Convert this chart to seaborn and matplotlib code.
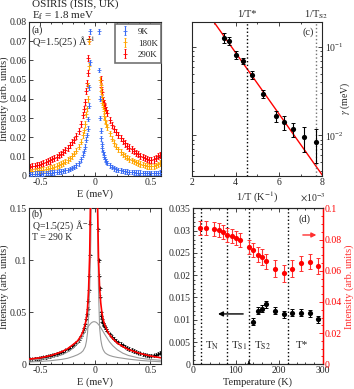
import numpy as np
import matplotlib
matplotlib.use("Agg")
import matplotlib.pyplot as plt
import seaborn as sns
from matplotlib.ticker import MultipleLocator, FuncFormatter, LogLocator, NullFormatter

nan = np.nan

# ---- panel (a): OSIRIS spectra, Q = 1.5 A^-1 ----
energy = [-0.59, -0.57, -0.55, -0.53, -0.51, -0.49, -0.47, -0.45, -0.43, -0.41, -0.39, -0.37,
          -0.35, -0.33, -0.31, -0.29, -0.27, -0.25, -0.23, -0.21, -0.19, -0.17, -0.15, -0.13,
          -0.11, -0.10, -0.09, -0.08, -0.075, -0.07, -0.065, -0.06, -0.055, -0.05, -0.045,
          0.03, 0.035, 0.04, 0.045, 0.05, 0.055, 0.06, 0.065, 0.07, 0.075, 0.08, 0.09, 0.10,
          0.11, 0.13, 0.15, 0.17, 0.19, 0.21, 0.23, 0.25, 0.27, 0.29, 0.31, 0.33, 0.35, 0.37,
          0.39, 0.41, 0.43, 0.45, 0.47, 0.49, 0.51, 0.53, 0.55, 0.57, 0.59]

i_9K = [0.0010, 0.0010, 0.0011, 0.0011, 0.0012, 0.0012, 0.0013, 0.0014, 0.0015, 0.0016, 0.0017, 0.0018,
        0.0019, 0.0021, 0.0023, 0.0025, 0.0028, 0.0031, 0.0035, 0.0040, 0.0046, 0.0054, 0.0065, 0.0085,
        0.0110, 0.0128, 0.0152, 0.0188, 0.0212, 0.0245, 0.0295, 0.0365, 0.0460, 0.0590, 0.0750,
        0.0750, 0.0550, 0.0400, 0.0300, 0.0235, 0.0195, 0.0165, 0.0142, 0.0124, 0.0110, 0.0098, 0.0085, 0.0075,
        0.0067, 0.0055, 0.0046, 0.0039, 0.0034, 0.0031, 0.0028, 0.0025, 0.0023, 0.0021, 0.0020, 0.0019, 0.0018, 0.0017,
        0.0016, 0.0016, 0.0015, 0.0015, 0.0014, 0.0014, 0.0014, 0.0014, 0.0014, 0.0015, 0.0016]

i_180K = [0.0022, 0.0023, 0.0025, 0.0026, 0.0028, 0.0030, 0.0032, 0.0034, 0.0037, 0.0040, 0.0043, 0.0047,
          0.0051, 0.0056, 0.0061, 0.0067, 0.0074, 0.0082, 0.0091, 0.0102, 0.0115, 0.0131, 0.0151, 0.0177,
          0.0212, 0.0236, 0.0270, 0.0320, 0.0350, 0.0400, 0.0470, 0.0570, 0.0700, 0.0850, nan,
          nan, nan, nan, 0.0500, 0.0470, 0.0440, 0.0410, 0.0380, 0.0360, 0.0335, 0.0310, 0.0290, 0.0270,
          0.0252, 0.0220, 0.0193, 0.0170, 0.0152, 0.0137, 0.0124, 0.0112, 0.0102, 0.0094, 0.0087, 0.0081, 0.0075, 0.0070,
          0.0066, 0.0062, 0.0058, 0.0055, 0.0052, 0.0050, 0.0049, 0.0050, 0.0054, 0.0060, 0.0066]

i_290K = [0.0048, 0.0050, 0.0053, 0.0055, 0.0058, 0.0062, 0.0066, 0.0070, 0.0075, 0.0080, 0.0086, 0.0092,
          0.0099, 0.0106, 0.0114, 0.0123, 0.0134, 0.0146, 0.0160, 0.0174, 0.0188, 0.0208, 0.0232, 0.0268,
          0.0315, 0.0345, 0.0385, 0.0440, 0.0480, 0.0535, 0.0610, 0.0710, 0.0850, 0.1050, 0.1350,
          nan, nan, nan, nan, 0.0500, 0.0460, 0.0435, 0.0410, 0.0395, 0.0380, 0.0370, 0.0355, 0.0340,
          0.0325, 0.0290, 0.0265, 0.0245, 0.0227, 0.0210, 0.0195, 0.0181, 0.0168, 0.0157, 0.0147, 0.0137, 0.0128, 0.0120,
          0.0112, 0.0105, 0.0098, 0.0092, 0.0087, 0.0083, 0.0082, 0.0085, 0.0093, 0.0103, 0.0110]

err_a = {'9K': 0.0012, '180K': 0.0014, '290K': 0.0016}

# ---- panel (b): 290 K data + fit components ----
e_extra_b = [-0.04, 0.02, 0.025, 0.03, 0.035, 0.04, 0.045]
i_extra_b = [0.19, 0.17, 0.13, 0.10, 0.085, 0.073, 0.065]

e_fit = [-0.6, -0.5, -0.4, -0.3, -0.25, -0.2, -0.16, -0.13, -0.11, -0.09, -0.08, -0.07, -0.06, -0.05,
         -0.04, -0.03, -0.02, -0.01, 0.0, 0.01, 0.02, 0.03, 0.04, 0.05, 0.06, 0.07, 0.08, 0.09,
         0.11, 0.13, 0.16, 0.2, 0.25, 0.3, 0.4, 0.5, 0.6]
fit_total = [0.0050, 0.0062, 0.0085, 0.0122, 0.0150, 0.0190, 0.0225, 0.0272, 0.0318, 0.0390, 0.0445, 0.0540,
             0.0720, 0.1060, 0.18, 0.33, 0.55, 0.65, 0.55, 0.35, 0.16, 0.100, 0.073, 0.059, 0.050, 0.044,
             0.040, 0.037, 0.032, 0.0285, 0.0245, 0.0205, 0.0170, 0.0143, 0.0106, 0.0080, 0.0062]
fit_broad = [0.0040, 0.0048, 0.0063, 0.0092, 0.0118, 0.0155, 0.0200, 0.0245, 0.0280, 0.0318, 0.0335, 0.0352,
             0.0368, 0.0382, 0.0394, 0.0403, 0.0408, 0.0410, 0.0408, 0.0403, 0.0394, 0.0382, 0.0368, 0.0352,
             0.0335, 0.0318, 0.0300, 0.0282, 0.0248, 0.0215, 0.0178, 0.0140, 0.0107, 0.0085, 0.0060, 0.0046, 0.0038]
fit_narrow = [0.0022, 0.0027, 0.0035, 0.0048, 0.0058, 0.0075, 0.0092, 0.0110, 0.0130, 0.0170, 0.0220, 0.0300,
              0.0450, 0.0750, 0.12, 0.22, 0.40, 0.50, 0.45, 0.30, 0.15, 0.07, 0.035, 0.024, 0.018, 0.0145,
              0.0125, 0.0110, 0.0095, 0.0085, 0.0075, 0.0066, 0.0058, 0.0050, 0.0038, 0.0030, 0.0024]

# ---- transitions ----
transitions = [20, 80, 130, 220]
trans_labels = [r'T$_{\rm N}$', r'T$_{\rm S1}$', r'T$_{\rm S2}$', r'T*']

# ---- panel (c): Arrhenius plot of gamma ----
temps_c = [290, 270, 250, 230, 210, 190, 170, 160, 150, 140, 130]
gamma = [0.128, 0.117, 0.082, 0.070, 0.048, 0.0297, 0.0165, 0.0141, 0.0117, 0.0095, 0.0084]
gamma_err = [0.018, 0.012, 0.008, 0.006, 0.005, 0.003, 0.0022, 0.0025, 0.0022, 0.0030, 0.0035]
fit_invT = [3.0, 8.0]
fit_gamma = [0.193, 0.00354]

# ---- panel (d): temperature dependence ----
temps_red = [17, 30, 50, 60, 70, 80, 90, 100, 110, 130, 140, 150, 160, 170, 190, 210, 230, 250, 270, 290]
int_red = [0.0876, 0.0874, 0.0870, 0.0863, 0.0848, 0.0831, 0.0825, 0.0812, 0.0797, 0.0752,
           0.0735, 0.0703, 0.0688, 0.0660, 0.0613, 0.0583, 0.0613, 0.0647, 0.0658, 0.0632]
int_red_err = [0.0045, 0.0045, 0.0045, 0.0045, 0.0045, 0.0045, 0.0045, 0.0045, 0.0045, 0.0045,
               0.0045, 0.005, 0.005, 0.005, 0.0055, 0.0055, 0.0055, 0.005, 0.005, 0.005]
temps_black = [140, 150, 160, 170, 190, 210, 230, 250, 270, 290]
val_black = [0.0096, 0.0120, 0.0125, 0.0135, 0.0120, 0.0112, 0.0116, 0.0116, 0.0114, 0.0101]
val_black_err = [0.0008, 0.0008, 0.0008, 0.0008, 0.0008, 0.0008, 0.0008, 0.0008, 0.0008, 0.0008]

sns.set_style('ticks')
plt.rcParams['font.family'] = ['Liberation Serif', 'DejaVu Serif']
plt.rcParams['mathtext.fontset'] = 'stix'
plt.rcParams['font.size'] = 7.5
plt.rcParams['axes.linewidth'] = 0.8
TICK = 7
TXT = 7.5

fmt_g = FuncFormatter(lambda v, p: f'{v:g}')


def style(ax, right=True):
    ax.tick_params(which='both', direction='in', top=True, right=right, labelsize=TICK, width=0.6, pad=1.5)
    ax.tick_params(which='major', length=3)
    ax.tick_params(which='minor', length=1.5)


fig = plt.figure(figsize=(3.54, 3.89), dpi=100)
ax_a = fig.add_axes([0.082, 0.548, 0.374, 0.396])
ax_c = fig.add_axes([0.5424, 0.548, 0.3686, 0.396])
ax_b = fig.add_axes([0.082, 0.0635, 0.374, 0.401])
ax_d = fig.add_axes([0.5443, 0.0635, 0.367, 0.401])

# (a)
colors_a = {'9K': '#3a6cf4', '180K': '#ffa500', '290K': '#ff0000'}
series_a = {'9K': i_9K, '180K': i_180K, '290K': i_290K}
handles = {}
for name, z in [('290K', 1), ('180K', 2), ('9K', 3)]:
    handles[name] = ax_a.errorbar(energy, series_a[name], yerr=err_a[name], fmt='+', ms=2.5, mew=0.6,
                                  elinewidth=0.8, capsize=1, capthick=0.6, color=colors_a[name],
                                  label=name, zorder=z)
ax_a.set_xlim(-0.6, 0.6)
ax_a.set_ylim(0, 0.08)
ax_a.xaxis.set_major_locator(MultipleLocator(0.5))
ax_a.xaxis.set_minor_locator(MultipleLocator(0.1))
ax_a.yaxis.set_major_locator(MultipleLocator(0.01))
ax_a.xaxis.set_major_formatter(fmt_g)
ax_a.yaxis.set_major_formatter(fmt_g)
style(ax_a)
ax_a.set_xlabel('E (meV)', labelpad=1.5)
ax_a.set_ylabel('Intensity (arb. units)', labelpad=0.5)
leg = ax_a.legend(handles=[handles['9K'], handles['180K'], handles['290K']], loc='upper right',
                  bbox_to_anchor=(1.0, 0.985), borderaxespad=0, fontsize=6.5, handlelength=1.4,
                  handletextpad=0.7, fancybox=False, framealpha=1, edgecolor='0.45',
                  borderpad=0.4, labelspacing=0.35)
leg.get_frame().set_linewidth(1.2)
ax_a.text(0.02, 1.112, 'OSIRIS (ISIS, UK)', transform=ax_a.transAxes, fontsize=8, va='center')
ax_a.text(0.02, 1.038, r'E$_{\rm f}$ = 1.8 meV', transform=ax_a.transAxes, fontsize=8, va='center')
ax_a.text(0.02, 0.943, '(a)', transform=ax_a.transAxes, fontsize=TXT, va='center')
ax_a.text(0.02, 0.868, r'Q=1.5(25) Å$^{-1}$', transform=ax_a.transAxes, fontsize=TXT, va='center')

# (b)
ax_b.errorbar(energy + e_extra_b, i_290K + i_extra_b, yerr=0.0015, fmt='+', ms=2.5, mew=0.6,
              elinewidth=0.7, capsize=1, capthick=0.5, color='black', ecolor='0.3', zorder=2)
sns.lineplot(x=e_fit, y=fit_narrow, ax=ax_b, color='0.6', lw=0.8, sort=False, zorder=3)
sns.lineplot(x=e_fit, y=fit_broad, ax=ax_b, color='0.6', lw=0.8, sort=False, zorder=3)
sns.lineplot(x=e_fit, y=fit_total, ax=ax_b, color='#ff0000', lw=1.2, sort=False, zorder=4)
ax_b.set_xlim(-0.6, 0.6)
ax_b.set_ylim(0, 0.15)
ax_b.xaxis.set_major_locator(MultipleLocator(0.5))
ax_b.xaxis.set_minor_locator(MultipleLocator(0.1))
ax_b.yaxis.set_major_locator(MultipleLocator(0.05))
ax_b.xaxis.set_major_formatter(fmt_g)
ax_b.yaxis.set_major_formatter(fmt_g)
style(ax_b)
ax_b.set_xlabel('E (meV)', labelpad=1.5)
ax_b.set_ylabel('Intensity (arb. units)', labelpad=0.5)
ax_b.text(0.02, 0.995, '(b)', transform=ax_b.transAxes, fontsize=7, va='top')
ax_b.text(0.02, 0.885, r'Q=1.5(25) Å$^{-1}$', transform=ax_b.transAxes, fontsize=7, va='center')
ax_b.text(0.02, 0.81, 'T = 290 K', transform=ax_b.transAxes, fontsize=7, va='center')

# (c)
inv_T = [1000.0 / t for t in temps_c]
ax_c.set_yscale('log')
sns.lineplot(x=fit_invT, y=fit_gamma, ax=ax_c, color='#ff0000', lw=1.0, sort=False, zorder=2)
ax_c.errorbar(inv_T, gamma, yerr=gamma_err, fmt='none', ecolor='black', elinewidth=0.8,
              capsize=1.5, capthick=0.7, zorder=3)
sns.scatterplot(x=inv_T, y=gamma, ax=ax_c, color='black', s=14, edgecolor='black', linewidth=0, zorder=4)
ax_c.axvline(1000.0 / transitions[3], color='black', ls=':', lw=1.0)
ax_c.axvline(1000.0 / transitions[2], color='0.45', ls=':', lw=1.0)
ax_c.set_xlim(2, 8)
ax_c.set_ylim(0.0035, 0.193)
ax_c.xaxis.set_major_locator(MultipleLocator(2))
ax_c.xaxis.set_minor_locator(MultipleLocator(1))
ax_c.yaxis.set_major_locator(LogLocator(base=10))
ax_c.yaxis.set_minor_locator(LogLocator(base=10, subs=np.arange(2, 10)))
ax_c.yaxis.set_minor_formatter(NullFormatter())
ax_c.xaxis.set_major_formatter(fmt_g)
style(ax_c)
ax_c.tick_params(axis='y', which='both', labelleft=False, labelright=True)
ax_c.set_xlabel(r'1/T (K$^{-1}$)', labelpad=2)
ax_c.yaxis.set_label_position('right')
ax_c.set_ylabel(r'$\gamma$ (meV)', fontsize=7)
ax_c.yaxis.set_label_coords(1.125, 0.5)
ax_c.text(0.83, -0.145, r'$\times$10$^{-3}$', transform=ax_c.transAxes, fontsize=TICK, va='center')
ax_c.text(1000.0 / transitions[3], 1.045, '1/T*', transform=ax_c.get_xaxis_transform(),
          ha='center', va='center', fontsize=TXT)
ax_c.text(1000.0 / transitions[2], 1.045, r'1/T$_{\rm S2}$', transform=ax_c.get_xaxis_transform(),
          ha='center', va='center', fontsize=TXT)
ax_c.text(0.89, 0.935, '(c)', transform=ax_c.transAxes, fontsize=TXT, ha='center', va='center')

# (d)
ax_d2 = ax_d.twinx()
ax_d.errorbar(temps_black, val_black, yerr=val_black_err, fmt='none', ecolor='black', elinewidth=0.8,
              capsize=1.5, capthick=0.7, zorder=3)
sns.scatterplot(x=temps_black, y=val_black, ax=ax_d, color='black', s=14, linewidth=0, zorder=4)
ax_d2.errorbar(temps_red, int_red, yerr=int_red_err, fmt='none', ecolor='#ff3030', elinewidth=0.8,
               capsize=1.5, capthick=0.7, zorder=3)
sns.scatterplot(x=temps_red, y=int_red, ax=ax_d2, color='#ff0000', s=14, linewidth=0, zorder=4)
for t in transitions:
    ax_d.axvline(t, color='black', ls=':', lw=1.0)
for t, lab, xl in zip(transitions, trans_labels, [28, 88, 141, 238]):
    ax_d.text(xl, 0.0042, lab, fontsize=8, va='center')
ax_d.annotate('', xy=(130, 0.0014), xytext=(130, 0.0),
              arrowprops=dict(arrowstyle='-|>', color='black', lw=0.6, mutation_scale=4))
ax_d.annotate('', xy=(52, 0.0113), xytext=(123, 0.0113),
              arrowprops=dict(arrowstyle='-|>', color='black', lw=1.0, mutation_scale=7))
ax_d2.annotate('', xy=(292, 0.0829), xytext=(248, 0.0829),
               arrowprops=dict(arrowstyle='-|>', color='#ff3030', lw=1.0, mutation_scale=7))
ax_d.set_xlim(0, 300)
ax_d.set_ylim(0, 0.035)
ax_d2.set_ylim(0, 0.1)
ax_d.xaxis.set_major_locator(MultipleLocator(100))
ax_d.xaxis.set_minor_locator(MultipleLocator(20))
ax_d.yaxis.set_major_locator(MultipleLocator(0.005))
ax_d.yaxis.set_minor_locator(MultipleLocator(0.001))
ax_d2.yaxis.set_major_locator(MultipleLocator(0.02))
ax_d2.yaxis.set_minor_locator(MultipleLocator(0.005))
ax_d.xaxis.set_major_formatter(fmt_g)
ax_d.yaxis.set_major_formatter(fmt_g)
ax_d2.yaxis.set_major_formatter(fmt_g)
style(ax_d, right=False)
ax_d2.tick_params(axis='y', which='both', direction='in', colors='#ff0000', labelsize=TICK, width=0.6, pad=1.5)
ax_d2.tick_params(axis='y', which='major', length=3)
ax_d2.tick_params(axis='y', which='minor', length=1.5)
ax_d2.spines['right'].set_color('#ff0000')
ax_d2.spines['right'].set_linewidth(1.0)
ax_d.set_xlabel('Temperature (K)', labelpad=1.5)
ax_d.set_ylabel('')
ax_d2.set_ylabel('Intensity (arb. units)', color='#ff3030', labelpad=1.5)
ax_d.text(0.864, 0.93, '(d)', transform=ax_d.transAxes, fontsize=TXT, ha='center', va='center')

fig.savefig('out.png', dpi=100)
